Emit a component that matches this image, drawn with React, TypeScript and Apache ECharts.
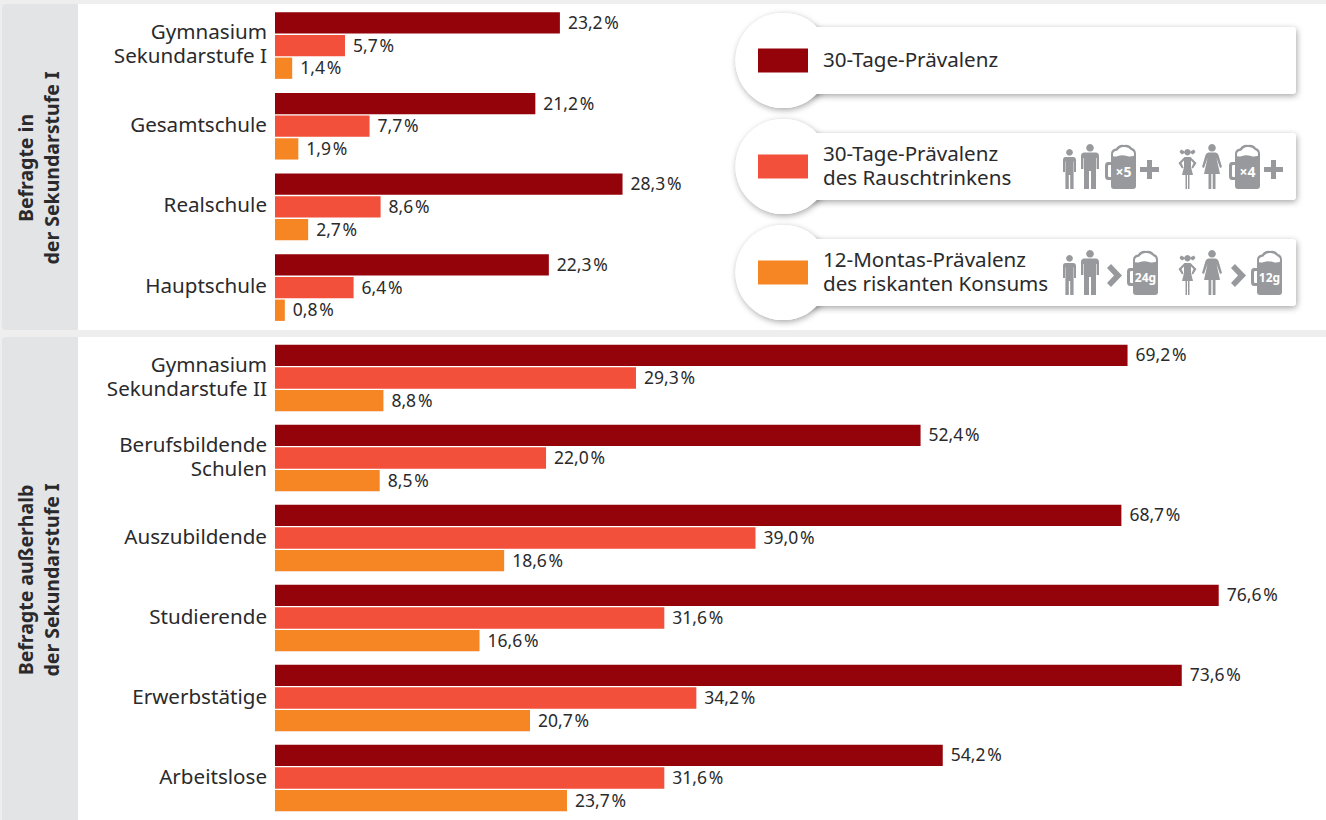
import React, { useEffect, useRef } from "react";
import * as echarts from "echarts";

const FONT = "'Noto Sans', sans-serif";
const DARK = "#95030a";
const MID = "#f2503a";
const ORANGE = "#f68523";
const GREY = "#97999c";
const INK = "#2a2a2c";

const seriesNames = ["30-Tage-Prävalenz", "30-Tage-Prävalenz des Rauschtrinkens", "12-Montas-Prävalenz des riskanten Konsums"];

const topCategories = ["Gymnasium\nSekundarstufe I", "Gesamtschule", "Realschule", "Hauptschule"];
const topPrev30 = [23.2, 21.2, 28.3, 22.3];
const topBinge = [5.7, 7.7, 8.6, 6.4];
const topRisk = [1.4, 1.9, 2.7, 0.8];

const bottomCategories = ["Gymnasium\nSekundarstufe II", "Berufsbildende\nSchulen", "Auszubildende", "Studierende", "Erwerbstätige", "Arbeitslose"];
const bottomPrev30 = [69.2, 52.4, 68.7, 76.6, 73.6, 54.2];
const bottomBinge = [29.3, 22.0, 39.0, 31.6, 34.2, 31.6];
const bottomRisk = [8.8, 8.5, 18.6, 16.6, 20.7, 23.7];

const sideTitles = ["Befragte in\nder Sekundarstufe I", "Befragte außerhalb\nder Sekundarstufe I"];
const legendTexts = ["30-Tage-Prävalenz", "30-Tage-Prävalenz\ndes Rauschtrinkens", "12-Montas-Prävalenz\ndes riskanten Konsums"];
const mugLabels = ["×5", "×4", "24g", "12g"];

const MAN = "M9 0a3.8 3.8 0 1 0 .01 0z M3.5 8.5H14.5Q18 8.5 18 12V25H15.6V14H15V45H10V27H8V45H3V14H2.4V25H0V12Q0 8.5 3.5 8.5z";
const BOY = "M6.5 0a3.4 3.4 0 1 0 .01 0z M2.5 8H10Q13 8 13 11V23H11V12.5H10.6V40H7.2V26H5.8V40H2.4V12.5H2V23H0V11Q0 8 2.5 8z";
const WOMAN = "M10 0a3.8 3.8 0 1 0 .01 0z M6.5 8.5H13.5Q15.5 8.5 16.5 11L20 23L18 24L14.5 14L18 30H13.5V45H10.7V30H9.3V45H6.5V30H2L5.5 14L2 24L0 23L3.5 11Q4.5 8.5 6.5 8.5z";
const GIRL = "M9.5 0a3.2 3.2 0 1 0 .01 0z M6 2L3 .5L1.5 3L4 5.5L6.5 4z M13 2L16 .5L17.5 3L15 5.5L12.5 4z M6.5 8H12.5L18.5 14L15 19.5L13.5 18.5L15.5 14L13 11.5V18L15 26H11.5V40H10V26H9V40H7.5V26H4L6 18V11.5L3.5 14L5.5 18.5L4 19.5L.5 14z";
const MUG_BODY = "M6 11Q9 13.5 13 12T22 12T31 10.5V42Q31 45 28 45H9Q6 45 6 42z M6 18H3Q0 18 0 22V32Q0 36 3 36H6V33H4.2Q3 33 3 32V22Q3 21 4.2 21H6z";
const MUG_FOAM = "M6 13V10Q6 5 11 4.5Q14 0 19 1Q24 0 27 4Q31 5 31 10V13H29V10Q29 7 26 6Q23 2.5 19 3Q15 2.5 12.5 6.5Q8 7 8 10V13z";
const PLUS = "M7 0H12V7H19V12H12V19H7V12H0V7H7z";
const CHEVRON = "M0 4L4 0L15 11.5L4 23L0 19L7 11.5z";

const SHAPES: Record<string, string> = { man: MAN, boy: BOY, woman: WOMAN, girl: GIRL, mugBody: MUG_BODY, mugFoam: MUG_FOAM, plus: PLUS, chevron: CHEVRON };
Object.entries(SHAPES).forEach(([k, d]) => echarts.graphic.registerShape(k, echarts.graphic.extendPath(d, {})));

const pct = (v: number) => v.toFixed(1).replace(".", ",") + "\u200a%";

function barSeries(name: string, color: string, data: number[], axis: number) {
  return {
    type: "bar", name, data, xAxisIndex: axis, yAxisIndex: axis,
    barWidth: 21.3, barGap: "6.5%",
    itemStyle: { color },
    label: {
      show: true, position: "right", distance: 8, offset: [0, -1],
      formatter: (p: any) => pct(p.value),
      fontFamily: FONT, fontSize: 17.5, color: INK,
    },
  };
}

function icon(type: string, x: number, y: number) {
  return { type, x, y, z: 5, style: { fill: GREY } };
}

function mug(x: number, y: number, label: string) {
  const small = label.length > 2;
  return [
    icon("mugBody", x, y),
    icon("mugFoam", x, y),
    { type: "text", z: 6, style: { text: label, x: x + 18.5, y: y + 27, textAlign: "center", textVerticalAlign: "middle", align: "center", verticalAlign: "middle", fontFamily: FONT, fontWeight: "bold", fontSize: small ? 12 : 14, fill: "#fff" } },
  ];
}

function legendRow(top: number, color: string, text: string) {
  const cy = top + 33.5;
  const shadow = { shadowBlur: 6, shadowOffsetX: 1, shadowOffsetY: 2, shadowColor: "rgba(0,0,0,0.35)", fill: "#fff" };
  return [
    { type: "circle", z: 1, shape: { cx: 783, cy, r: 47.5 }, style: shadow },
    { type: "rect", z: 1, shape: { x: 783, y: top, width: 513, height: 67, r: 4 }, style: shadow },
    { type: "circle", z: 2, shape: { cx: 783, cy, r: 47.5 }, style: { fill: "#fff" } },
    { type: "rect", z: 2, shape: { x: 783, y: top, width: 513, height: 67, r: 4 }, style: { fill: "#fff" } },
    { type: "rect", z: 3, shape: { x: 758, y: cy - 12, width: 50, height: 24 }, style: { fill: color } },
    { type: "text", z: 3, style: { text, x: 823, y: cy - 2, textAlign: "left", textVerticalAlign: "middle", align: "left", verticalAlign: "middle", fontFamily: FONT, fontSize: 20.6, lineHeight: 24, fill: INK } },
  ];
}

function panel(top: number, height: number, title: string, titleY: number) {
  return [
    { type: "rect", z: 0, shape: { x: 2, y: top, width: 1340, height, r: 4 }, style: { fill: "#e2e4e6" } },
    { type: "rect", z: 0, shape: { x: 78, y: top, width: 1248, height }, style: { fill: "#fff" } },
    { type: "text", z: 1, x: 38, y: titleY, rotation: Math.PI / 2, style: { text: title, x: 0, y: 0, textAlign: "center", textVerticalAlign: "middle", align: "center", verticalAlign: "middle", fontFamily: FONT, fontWeight: "bold", fontSize: 19.5, lineHeight: 26, fill: INK } },
  ];
}

const GRID_W = 1051;

function axes(cats: string[], gridIndex: number, pxPerPct: number) {
  return {
    x: { type: "value", gridIndex, min: 0, max: GRID_W / pxPerPct, show: false },
    y: {
      type: "category", gridIndex, inverse: true, data: cats,
      axisLine: { show: false }, axisTick: { show: false }, splitLine: { show: false },
      axisLabel: {
        interval: 0, margin: 8, align: "right",
        formatter: (v: string) => v.split("\n").map((s) => `{l|${s}}`).join("\n"),
        rich: { l: { fontFamily: FONT, fontSize: 20.6, height: 19, lineHeight: 24, padding: [0, 0, 5, 0], color: INK, align: "right" } },
      },
    },
  };
}

export default function App() {
  const ref = useRef<HTMLDivElement>(null);
  useEffect(() => {
    document.body.style.margin = "0";
    const chart = echarts.init(ref.current!, null, { renderer: "svg" });
    const a0 = axes(topCategories, 0, 12.28);
    const a1 = axes(bottomCategories, 1, 12.32);
    const people2 = [
      icon("boy", 1063, 149), icon("man", 1081, 144), icon("girl", 1178, 149), icon("woman", 1202, 144),
    ];
    const people3 = [
      icon("boy", 1063, 255), icon("man", 1081, 250), icon("girl", 1178, 255), icon("woman", 1202, 250),
    ];
    chart.setOption({
      animation: false,
      backgroundColor: "#eeeeef",
      grid: [
        { left: 275, top: 5.2, width: GRID_W, height: 322.7, containLabel: false },
        { left: 275, top: 338, width: GRID_W, height: 480, containLabel: false },
      ],
      xAxis: [a0.x, a1.x],
      yAxis: [a0.y, a1.y],
      series: [
        barSeries(seriesNames[0], DARK, topPrev30, 0),
        barSeries(seriesNames[1], MID, topBinge, 0),
        barSeries(seriesNames[2], ORANGE, topRisk, 0),
        barSeries(seriesNames[0], DARK, bottomPrev30, 1),
        barSeries(seriesNames[1], MID, bottomBinge, 1),
        barSeries(seriesNames[2], ORANGE, bottomRisk, 1),
      ],
      graphic: {
        elements: [
          ...panel(4, 326, sideTitles[0], 168),
          ...panel(337, 490, sideTitles[1], 580),
          ...legendRow(27, DARK, legendTexts[0]),
          ...legendRow(133, MID, legendTexts[1]),
          ...legendRow(239, ORANGE, legendTexts[2]),
          ...people2,
          ...mug(1105, 144, mugLabels[0]),
          icon("plus", 1140, 160),
          ...mug(1229, 144, mugLabels[1]),
          icon("plus", 1264, 160),
          ...people3,
          icon("chevron", 1107, 264),
          ...mug(1127, 250, mugLabels[2]),
          icon("chevron", 1231, 264),
          ...mug(1251, 250, mugLabels[3]),
        ],
      },
    });
    return () => chart.dispose();
  }, []);
  return <div ref={ref} style={{ position: "absolute", left: 0, top: 0, width: 1326, height: 820, overflow: "hidden" }} />;
}
